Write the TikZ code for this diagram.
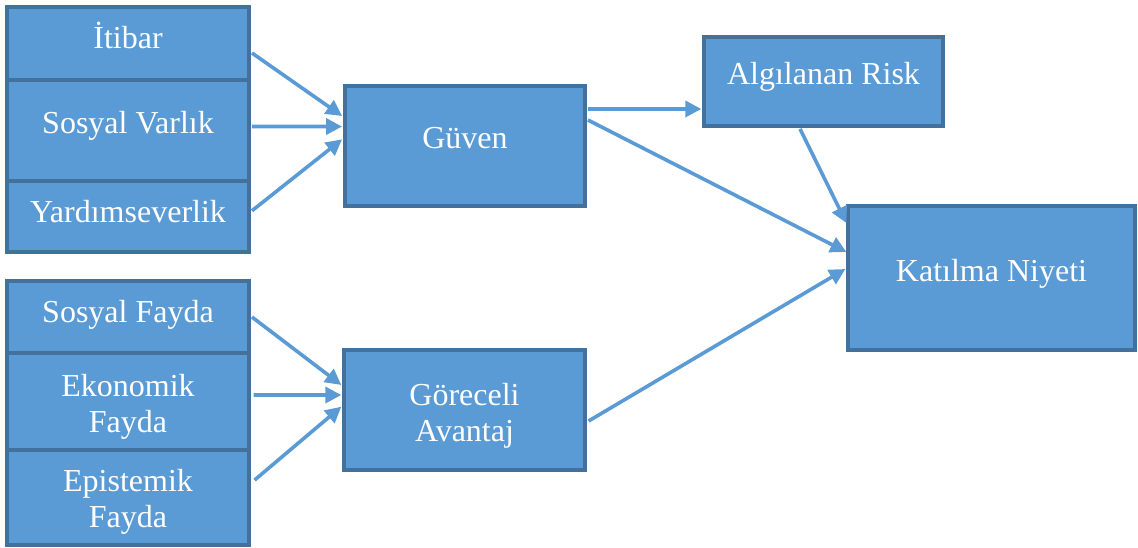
\documentclass[tikz,border=0pt]{standalone}
\usepackage{fontspec}
\setmainfont{Liberation Serif}
\usepackage{xcolor}
\usepackage{tikz}
\usetikzlibrary{arrows.meta}

\definecolor{boxfill}{HTML}{5B9BD5}
\definecolor{boxedge}{HTML}{41719C}
\definecolor{linkc}{HTML}{5B9BD5}

\begin{document}
\begin{tikzpicture}[
  x=0.75pt,y=-0.75pt,
  box/.style={draw=boxedge,fill=boxfill,line width=2.4pt,inner sep=0pt},
  lbox/.style={box,minimum width=181.5pt},
  txt/.style={text=white,font=\fontsize{24}{27.4}\selectfont,align=center,inner sep=0pt},
  link/.style={draw=linkc,line width=2.7pt,-{Triangle[length=12pt,width=12pt]}}
]
\useasboundingbox (0,0) rectangle (1138,547);

% ---- left column, upper group ----
\node[lbox,minimum height=54.75pt] (itibar) at (128,43.5)  {};
\node[lbox,minimum height=75.75pt] (varlik) at (128,130.5) {};
\node[lbox,minimum height=53.25pt] (yardim) at (128,216.5) {};
\node[txt,anchor=base] (itibarT) at (128,48)  {İtibar};
\node[txt,anchor=base] (varlikT) at (128,133) {Sosyal Varlık};
\node[txt,anchor=base] (yardimT) at (128,222) {Yardımseverlik};

% ---- left column, lower group ----
\node[lbox,minimum height=54pt]    (sfayda)  at (128,317)   {};
\node[lbox,minimum height=72.75pt] (efayda)  at (128,401.5) {};
\node[lbox,minimum height=71.25pt] (epfayda) at (128,497.5) {};
\node[txt,anchor=base] (sfaydaT) at (128,322) {Sosyal Fayda};
\node[txt] (efaydaT)  at (128,407) {Ekonomik\\Fayda};
\node[txt] (epfaydaT) at (128,502) {Epistemik\\Fayda};

% ---- middle and right ----
\node[box,minimum width=180pt,minimum height=90pt]      (guven)    at (465,146)   {};
\node[box,minimum width=180.75pt,minimum height=90pt]   (goreceli) at (464.5,410) {};
\node[box,minimum width=179.25pt,minimum height=66.75pt](risk)     at (823.5,81.5){};
\node[box,minimum width=215.25pt,minimum height=108pt]  (niyet)    at (991.5,278) {};
\node[txt,anchor=base] (guvenT) at (465,148)   {Güven};
\node[txt] (gorecelIT)          at (464.5,416) {Göreceli\\Avantaj};
\node[txt,anchor=base] (riskT)  at (823.5,84)  {Algılanan Risk};
\node[txt,anchor=base] (niyetT) at (991.5,281) {Katılma Niyeti};

% ---- arrows ----
\draw[link] ([xshift=1pt,yshift=-7.1pt]itibar.east) -- ([xshift=-1pt,yshift=22.5pt]guven.west);
\draw[link] ([xshift=1pt,yshift=3pt]varlik.east)    -- ([xshift=-1pt,yshift=14.6pt]guven.west);
\draw[link] ([xshift=1pt,yshift=4.3pt]yardim.east)  -- ([xshift=-1pt,yshift=5pt]guven.west);

\draw[link] ([xshift=1pt,yshift=0pt]sfayda.east)     -- ([xshift=-0.8pt,yshift=18.75pt]goreceli.west);
\draw[link] ([xshift=2.2pt,yshift=4.9pt]efayda.east) -- ([xshift=-0.8pt,yshift=11.25pt]goreceli.west);
\draw[link] ([xshift=3pt,yshift=13.1pt]epfayda.east) -- ([xshift=-0.8pt,yshift=2.5pt]goreceli.west);

\draw[link] ([xshift=1pt,yshift=27.75pt]guven.east) -- ([xshift=-0.8pt,yshift=-20.6pt]risk.west);
\draw[link] ([xshift=1pt,yshift=19.5pt]guven.east)  -- ([xshift=0pt,yshift=19.5pt]niyet.west);
\draw[link] ([xshift=-17.6pt,yshift=-1pt]risk.south) -- ([yshift=41.25pt]niyet.west);
\draw[link] ([xshift=1.5pt,yshift=-8.25pt]goreceli.east) -- ([xshift=-0.8pt,yshift=6.75pt]niyet.west);
\end{tikzpicture}
\end{document}
